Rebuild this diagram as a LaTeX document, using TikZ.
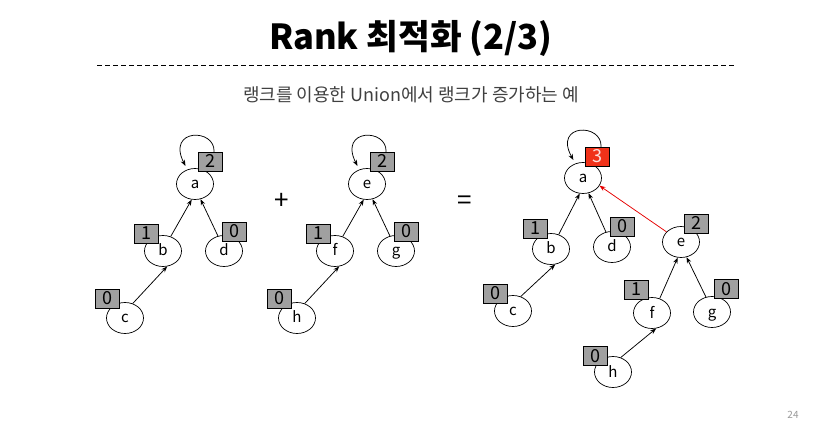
\documentclass[tikz,border=0pt]{standalone}
\usepackage{fontspec}
\setmainfont{Noto Sans CJK KR}
\usetikzlibrary{shapes.geometric,arrows.meta}
\definecolor{boxgray}{RGB}{160,160,160}
\definecolor{rankred}{RGB}{240,50,25}
\tikzset{
  vtx/.style={ellipse,draw,line width=0.7pt,minimum width=37pt,minimum height=31pt,inner sep=0pt,text height=11pt,text depth=1pt,font=\fontsize{15}{15}\selectfont},
  rankbox/.style={rectangle,draw,line width=0.7pt,fill=boxgray,minimum width=24pt,minimum height=19pt,inner sep=0pt,text height=13pt,text depth=1pt,font=\fontsize{18}{18}\selectfont},
  redbox/.style={rankbox,fill=rankred,text=white!85!rankred},
  edge/.style={-{Stealth[length=6pt,width=4.5pt]},line width=0.75pt},
  loopedge/.style={edge,shorten >=4pt},
  redge/.style={edge,draw=red!90!black},
}
\begin{document}
\begin{tikzpicture}[x=1pt,y=-1pt]
\useasboundingbox (0,0) rectangle (829,427);
% title
\node (title) at (411,38) {\fontsize{34.5}{34.5}\selectfont\bfseries Rank 최적화 (2/3)};
\coordinate (dl) at (97,65);
\coordinate (dr) at (736,65);
\draw[line width=0.7pt,dash pattern=on 5pt off 3pt] (dl) -- (dr);
\node[text=black!75] (sub) at (411,95) {\fontsize{18}{18}\selectfont 랭크를 이용한 Union에서 랭크가 증가하는 예};
\node[text=black!40] (pg) at (793,415) {\fontsize{10}{10}\selectfont 24};
% tree 1
\node[vtx] (a1) at (195,184) {a};
\node[vtx] (b1) at (163,251) {b};
\node[vtx] (d1) at (224,251) {d};
\node[vtx] (c1) at (125,318) {c};
\node[rankbox] (ra1) at (210,162) {2};
\node[rankbox] (rb1) at (146,234) {1};
\node[rankbox] (rd1) at (234,232) {0};
\node[rankbox] (rc1) at (107,299) {0};
\draw[edge] (b1.62) -- (a1.258);
\draw[edge] (d1.112) -- (a1.290);
\draw[edge] (c1.62) -- (b1.285);
\draw[loopedge] ([xshift=4pt]ra1.north) .. controls (216,128) and (166,128) .. (a1.118);
% plus
\node (plus) at (282,201) {\fontsize{26}{26}\selectfont +};
% tree 2
\node[vtx] (e2) at (367,184) {e};
\node[vtx] (f2) at (335,251) {f};
\node[vtx] (g2) at (396,251) {g};
\node[vtx] (h2) at (297,318) {h};
\node[rankbox] (re2) at (382,162) {2};
\node[rankbox] (rf2) at (318,234) {1};
\node[rankbox] (rg2) at (406,232) {0};
\node[rankbox] (rh2) at (279,299) {0};
\draw[edge] (f2.62) -- (e2.258);
\draw[edge] (g2.112) -- (e2.290);
\draw[edge] (h2.62) -- (f2.285);
\draw[loopedge] ([xshift=4pt]re2.north) .. controls (388,128) and (338,128) .. (e2.118);
% equals
\node (eq) at (465,203) {\fontsize{26}{26}\selectfont =};
% tree 3
\node[vtx] (a3) at (583,178) {a};
\node[vtx] (b3) at (551,249) {b};
\node[vtx] (d3) at (612,247) {d};
\node[vtx] (c3) at (513,311) {c};
\node[vtx] (e3) at (681,242) {e};
\node[vtx] (f3) at (652,313) {f};
\node[vtx] (g3) at (712,312) {g};
\node[vtx] (h3) at (613,372) {h};
\node[redbox] (ra3) at (597,157) {3};
\node[rankbox] (rb3) at (535,229) {1};
\node[rankbox] (rd3) at (622,227) {0};
\node[rankbox] (rc3) at (495,294) {0};
\node[rankbox] (re3) at (696,224) {2};
\node[rankbox] (rf3) at (636,290) {1};
\node[rankbox] (rg3) at (726,289) {0};
\node[rankbox] (rh3) at (595,356) {0};
\draw[edge] (b3.62) -- (a3.258);
\draw[edge] (d3.112) -- (a3.290);
\draw[edge] (c3.62) -- (b3.285);
\draw[edge] (f3.62) -- (e3.258);
\draw[edge] (g3.112) -- (e3.290);
\draw[edge] (h3.62) -- (f3.285);
\draw[redge] (e3.145) -- (a3.335);
\draw[loopedge] ([xshift=4pt]ra3.north) .. controls (603,123) and (553,123) .. (a3.118);
\end{tikzpicture}
\end{document}
